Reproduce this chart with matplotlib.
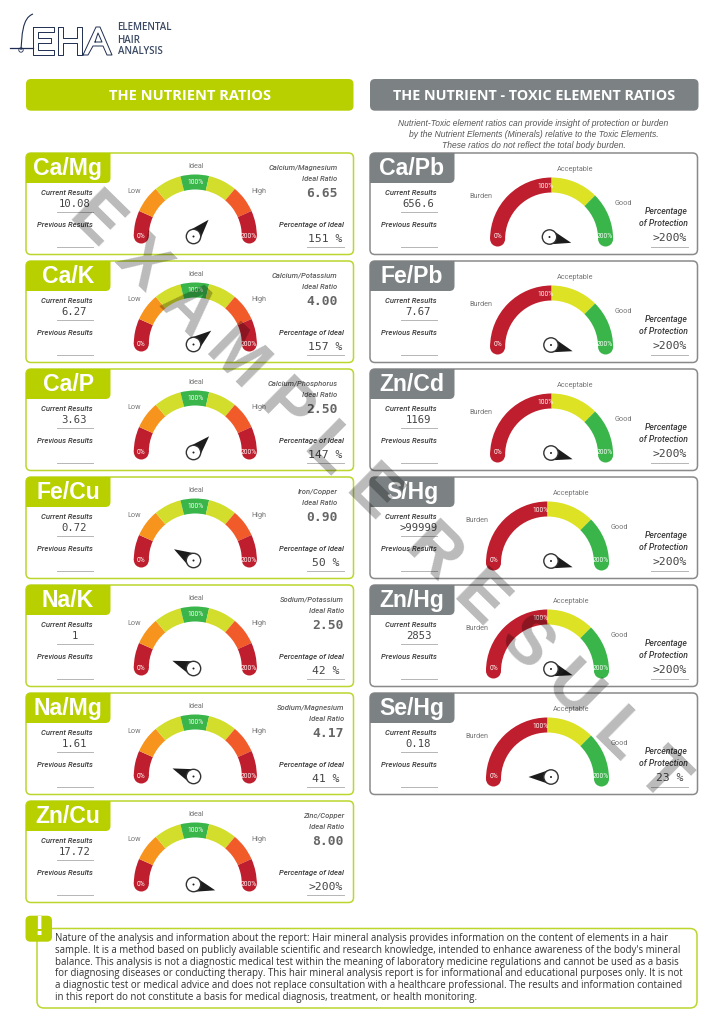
import matplotlib
matplotlib.use('Agg')
import matplotlib.pyplot as plt
from matplotlib.patches import Wedge, Circle, Polygon, FancyBboxPatch, PathPatch
from matplotlib.path import Path
import numpy as np

# Dados
left_ratios = ['Ca/Mg', 'Ca/K', 'Ca/P', 'Fe/Cu', 'Na/K', 'Na/Mg', 'Zn/Cu']
left_names = ['Calcium/Magnesium', 'Calcium/Potassium', 'Calcium/Phosphorus', 'Iron/Copper',
              'Sodium/Potassium', 'Sodium/Magnesium', 'Zinc/Copper']
left_current = ['10.08', '6.27', '3.63', '0.72', '1', '1.61', '17.72']
left_ideal = ['6.65', '4.00', '2.50', '0.90', '2.50', '4.17', '8.00']
left_percent = ['151 %', '157 %', '147 %', '50 %', '42 %', '41 %', '>200%']
left_needle = [48, 38, 46, 150, 160, 159, -15]

right_ratios = ['Ca/Pb', 'Fe/Pb', 'Zn/Cd', 'S/Hg', 'Zn/Hg', 'Se/Hg']
right_current = ['656.6', '7.67', '1169', '>99999', '2853', '0.18']
right_percent = ['>200%', '>200%', '>200%', '>200%', '>200%', '23 %']
right_needle = [-15, -16, -16, -16, -16, 180]

caption = ['Nutrient-Toxic element ratios can provide insight of protection or burden',
           'by the Nutrient Elements (Minerals) relative to the Toxic Elements.',
           'These ratios do not reflect the total body burden.']
notice = ['Nature of the analysis and information about the report: Hair mineral analysis provides information on the content of elements in a hair',
          "sample. It is a method based on publicly available scientific and research knowledge, intended to enhance awareness of the body's mineral",
          'balance. This analysis is not a diagnostic medical test within the meaning of laboratory medicine regulations and cannot be used as a basis',
          'for diagnosing diseases or conducting therapy. This hair mineral analysis report is for informational and educational purposes only. It is not',
          'a diagnostic test or medical advice and does not replace consultation with a healthcare professional. The results and information contained',
          'in this report do not constitute a basis for medical diagnosis, treatment, or health monitoring.']

# Cores
LIME = '#b9d000'
BORDER_LIME = '#bcd62e'
GRAY = '#7c8284'
RED = '#be1e2d'
ORANGE = '#f7941d'
YELLOW = '#d3dd2c'
GREEN = '#39b54a'
DEEP_ORANGE = '#f15a29'
TOX_YELLOW = '#dde225'
TOX_GREEN = '#39b54a'

card_tops = [153, 261, 369, 477, 585, 693, 801]

fig = plt.figure(figsize=(7.24, 10.24), dpi=100)
ax = fig.add_axes([0, 0, 1, 1])
ax.set_xlim(0, 724)
ax.set_ylim(1024, 0)
ax.axis('off')


def rounded(x0, y0, x1, y1, r, fc, ec, lw=1.0, z=1):
    ax.add_patch(FancyBboxPatch((x0 + r, y0 + r), x1 - x0 - 2 * r, y1 - y0 - 2 * r,
                                boxstyle='round,pad=%f,rounding_size=%f' % (r, r),
                                fc=fc, ec=ec, lw=lw, zorder=z))


def tab(x0, y0, x1, y1, color):
    # so o canto inferior direito e o superior esquerdo sao arredondados
    r = 5
    verts = [(x0 + r, y0), (x1, y0), (x1, y1 - r), (x1, y1), (x1 - r, y1), (x0, y1),
             (x0, y0 + r), (x0, y0), (x0 + r, y0)]
    codes = [Path.MOVETO, Path.LINETO, Path.LINETO, Path.CURVE3, Path.CURVE3, Path.LINETO,
             Path.LINETO, Path.CURVE3, Path.CURVE3]
    ax.add_patch(PathPatch(Path(verts, codes), fc=color, ec='none', zorder=3))


def band(cx, cy, start, end, color):
    ax.add_patch(Wedge((cx, cy), 61.5, -start, -end, width=15, fc=color, ec='none', zorder=2))


def needle(hx, hy, angle):
    a = np.deg2rad(angle)
    d = np.array([np.cos(a), -np.sin(a)])
    n = np.array([d[1], -d[0]])
    h = np.array([hx, hy])
    L, r = 22.5, 7.2
    ax.add_patch(Polygon([h + d * L, h + d * 1.5 + n * r, h + d * 1.5 - n * r],
                         fc='#1c1c1c', ec='none', zorder=4))
    ax.add_patch(Circle((hx, hy), r, fc='white', ec='#333333', lw=1.0, zorder=5))
    ax.add_patch(Circle((hx, hy), 1.0, fc='#222222', ec='none', zorder=6))


def small(x, y, s, ha='center', color='#6e6e6e', italic=False, size=5.2, weight='normal'):
    ax.text(x, y, s, ha=ha, va='center', color=color, fontsize=size, family='Roboto',
            style='italic' if italic else 'normal', weight=weight, zorder=7)


def label_it(x, y, s, color='#3a3a3a', size=5.5):
    small(x, y, s, ha='right', color=color, italic=True, size=size, weight='medium')


def mono(x, y, s, ha='center', size=7.6, bold=False, color='#444444'):
    ax.text(x, y, s, ha=ha, va='center', color=color, fontsize=size, family='DejaVu Sans Mono',
            weight='bold' if bold else 'normal', zorder=7)


def common(y0, x0, x_right, label, current, edge, tab_color):
    rounded(x0, y0, x_right, y0 + 101.5, 5, 'white', edge, lw=1.1)
    tab(x0, y0, x0 + 84.5, y0 + 30, tab_color)
    ax.text(x0 + 42, y0 + 15.5, label, ha='center', va='center', color='white', fontsize=16.6,
            family='Liberation Sans', weight='bold', zorder=4)
    label_it(x0 + 66.5, y0 + 40, 'Current Results')
    label_it(x0 + 66.5, y0 + 71.7, 'Previous Results')
    mono(x0 + 48.5, y0 + 51, current)
    for ly in (59.3, 94.3):
        ax.plot([x0 + 31, x0 + 66.5], [y0 + ly, y0 + ly], color='#b5b5b5', lw=0.7, zorder=2)


# Logo
navy = '#1f2d52'
logo_e = [(33, 27), (54, 27), (54, 32), (38, 32), (38, 38), (51, 38), (51, 43), (38, 43), (38, 50), (54, 50), (54, 55), (33, 55), (33, 27)]
logo_h = [(58, 27), (63, 27), (63, 38), (77, 38), (77, 27), (82, 27), (82, 55), (77, 55), (77, 43), (63, 43), (63, 55), (58, 55), (58, 27)]
logo_a = [(83, 55), (96, 27), (100, 27), (112, 55), (107, 55), (103, 46), (93, 46), (88, 55), (83, 55)]
logo_a2 = [(95, 42), (102, 42), (98, 33), (95, 42)]
for pts in (logo_e, logo_h, logo_a, logo_a2):
    ax.plot(*zip(*pts), color=navy, lw=0.7, zorder=3)
ax.plot([10, 33], [48, 48], color=navy, lw=0.9)
ax.add_patch(PathPatch(Path([(33, 14), (22, 18), (22, 36), (21, 50)], [Path.MOVETO, Path.CURVE4, Path.CURVE4, Path.CURVE4]),
                       fc='none', ec=navy, lw=0.8))
ax.add_patch(Circle((21, 50), 2.2, fc='none', ec=navy, lw=0.6))
for y, s in zip([28, 40.7, 52], ['ELEMENTAL', 'HAIR', 'ANALYSIS']):
    ax.text(117.5, y, s, ha='left', va='center', color='#3b4a63', fontsize=7.0, family='Open Sans', weight='semibold')

# Cabecalhos
rounded(26, 79, 353.5, 110.7, 5, LIME, 'none')
ax.text(190, 95.5, 'THE NUTRIENT RATIOS', ha='center', va='center', color='white', fontsize=10.5,
        family='Open Sans', weight='bold', zorder=3)
rounded(370, 79, 698.5, 110.7, 5, GRAY, 'none')
ax.text(534.5, 95.5, 'THE NUTRIENT - TOXIC ELEMENT RATIOS', ha='center', va='center', color='white', fontsize=10.4,
        family='Open Sans', weight='bold', zorder=3)
for y, s in zip([124, 134.5, 145], caption):
    ax.text(533.5, y, s, ha='center', va='center', color='#555555', fontsize=6.15, style='italic',
            family='Liberation Sans')

# Razoes de nutrientes
for i, (y0, label, name, cur, ideal, pct, ang) in enumerate(zip(card_tops, left_ratios, left_names, left_current,
                                                                 left_ideal, left_percent, left_needle)):
    cx, cy = 195.3, y0 + 83
    common(y0, 26, 353.5, label, cur, BORDER_LIME, LIME)
    band(cx, cy, 180, 156, RED)
    band(cx, cy, 156, 130, ORANGE)
    band(cx, cy, 130, 104, YELLOW)
    band(cx, cy, 104, 77, GREEN)
    band(cx, cy, 77, 50, YELLOW)
    band(cx, cy, 50, 24, DEEP_ORANGE)
    band(cx, cy, 24, 0, RED)
    ax.add_patch(Circle((cx - 54, cy), 7.5, fc=RED, ec='none', zorder=2))
    ax.add_patch(Circle((cx + 54, cy), 7.5, fc=RED, ec='none', zorder=2))
    small(cx + 0.5, y0 + 13.5, 'Ideal', color='#777777')
    small(cx - 61.5, y0 + 38.5, 'Low', color='#777777')
    small(cx + 63.5, y0 + 38.5, 'High', color='#777777')
    small(cx + 0.5, y0 + 29.5, '100%', color='white', size=4.8)
    small(cx - 54.5, y0 + 83.3, '0%', color='white', size=4.8)
    small(cx + 53, y0 + 83.3, '200%', color='white', size=4.8)
    needle(193.5, y0 + 83.5, ang)
    # os quatro primeiros cartoes estao um pouco mais a esquerda
    edge = 337.5 if i < 4 else 344
    label_it(edge, y0 + 14.7, name, color='#5e5e5e')
    label_it(edge, y0 + 26.3, 'Ideal Ratio', color='#5e5e5e')
    mono(edge, y0 + 40.5, ideal, ha='right', size=9.4, bold=True, color='#666666')
    label_it(344, y0 + 71.7, 'Percentage of Ideal')
    mono(325.5, y0 + 85.7, pct, size=8.2)
    ax.plot([307.3, 344], [y0 + 94.3, y0 + 94.3], color='#b5b5b5', lw=0.7, zorder=2)

# Razoes de nutrientes e toxicos
for i, (y0, label, cur, pct, ang) in enumerate(zip(card_tops, right_ratios, right_current, right_percent, right_needle)):
    cx = 551.6 if i < 3 else 547.5
    cy = y0 + 86
    common(y0, 370, 697.5, label, cur, '#8a8a8a', GRAY)
    band(cx, cy, 180, 90, RED)
    band(cx, cy, 90, 45, TOX_YELLOW)
    band(cx, cy, 45, 0, TOX_GREEN)
    ax.add_patch(Circle((cx - 54, cy), 7.5, fc=RED, ec='none', zorder=2))
    ax.add_patch(Circle((cx + 54, cy), 7.5, fc=TOX_GREEN, ec='none', zorder=2))
    small(cx + 23.5, y0 + 16.5, 'Acceptable', color='#777777')
    small(cx - 70.5, y0 + 44, 'Burden', color='#777777')
    small(cx + 71.7, y0 + 50.7, 'Good', color='#777777')
    small(cx - 6.5, y0 + 33.3, '100%', color='white', size=4.8)
    small(cx - 53.6, y0 + 83.3, '0%', color='white', size=4.8)
    small(cx + 53, y0 + 83.3, '200%', color='white', size=4.8)
    needle(551 if i else 549.5, y0 + 84, ang)
    label_it(688, y0 + 59, 'Percentage', size=6.2)
    label_it(688, y0 + 70.7, 'of Protection', size=6.2)
    mono(669.3, y0 + 85, pct, size=8.2)
    ax.plot([650.5, 688], [y0 + 94.3, y0 + 94.3], color='#b5b5b5', lw=0.7, zorder=2)

# Aviso
rounded(37, 928.5, 697, 1008, 7, 'white', BORDER_LIME, lw=1.1)
rounded(25.5, 915.7, 52, 941.7, 5, LIME, 'none', z=3)
ax.text(39, 928, '!', ha='center', va='center', color='white', fontsize=20, family='Liberation Sans',
        weight='bold', zorder=4)
for k, s in enumerate(notice):
    ax.text(55.4, 939 + k * 11.66, s, ha='left', va='center', color='#333333', fontsize=6.93, family='Open Sans', zorder=4)

# Marca de agua
ax.text(378, 498, 'E X A M P L E  R E S U L T', rotation=-44.6,
        rotation_mode='anchor', ha='center', va='center', color='black', alpha=0.27, fontsize=49,
        family='Liberation Sans', weight='bold', zorder=10)

fig.savefig('out.png', dpi=100)
